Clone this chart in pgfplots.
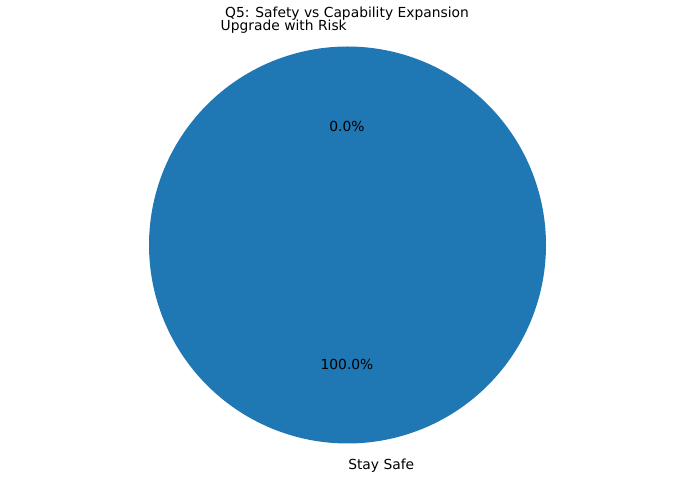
\documentclass[border=0pt]{standalone}
\usepackage{pgfplots}
\pgfplotsset{compat=1.18}
\usepackage{fontspec}
\setmainfont{DejaVu Sans}
\definecolor{c0}{HTML}{1F77B4}
% pie data (percent)
\def\valSafe{100}
\def\valRisk{0}
\begin{document}
\begin{tikzpicture}
\begin{axis}[
  scale only axis, width=6.86in, height=4.78in,
  xmin=0, xmax=686, ymin=0, ymax=478,
  hide axis, clip=false,
  font=\fontsize{10}{12}\selectfont,
]
\path[draw=none] (axis cs:0,0) rectangle (axis cs:686,478);
% Upgrade with Risk: 0% wedge starting at 90 deg (nothing visible)
% Stay Safe: from 90 to 90+3.6*value
\addplot[fill=c0, draw=none, domain=90:{90+3.6*\valSafe}, samples=241, variable=\t]
  ({347.5+198.5*cos(\t)},{233+198.5*sin(\t)}) -- cycle;
\node[anchor=center] at (axis cs:347,464) {Q5: Safety vs Capability Expansion};
\node[anchor=east, inner sep=0pt] at (axis cs:347,451) {Upgrade with Risk};
\node[anchor=west, inner sep=0pt] at (axis cs:348,12.5) {Stay Safe};
\node[anchor=center, inner sep=0pt] at (axis cs:347,352) {0.0\%};
\node[anchor=center, inner sep=0pt] at (axis cs:347,114) {100.0\%};
\end{axis}
\end{tikzpicture}
\end{document}
